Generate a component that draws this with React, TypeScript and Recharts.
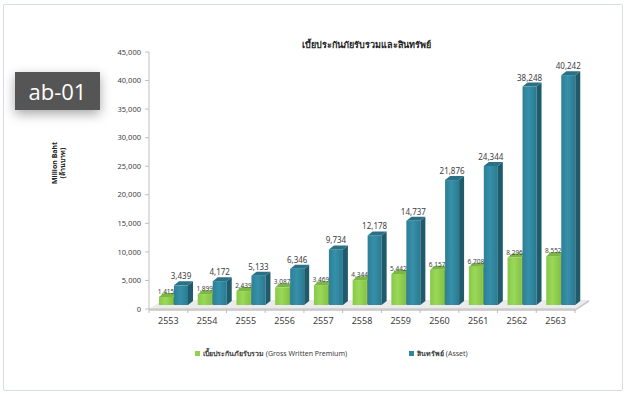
import { BarChart, Bar, XAxis, YAxis, LabelList, ReferenceArea, Label } from 'recharts';

const years = ['2553', '2554', '2555', '2556', '2557', '2558', '2559', '2560', '2561', '2562', '2563'];
const premium = [1415, 1899, 2439, 3087, 3469, 4344, 5442, 6157, 6708, 8296, 8552];
const assets = [3439, 4172, 5133, 6346, 9734, 12178, 14737, 21876, 24344, 38248, 40242];
const yTicks = [0, 5000, 10000, 15000, 20000, 25000, 30000, 35000, 40000, 45000];

const premiumName = 'เบี้ยประกันภัยรับรวม';
const premiumNameEn = '(Gross Written Premium)';
const assetName = 'สินทรัพย์';
const assetNameEn = '(Asset)';
const title = 'เบี้ยประกันภัยรับรวมและสินทรัพย์';

const data = years.map((year, i) => ({ year, premium: premium[i], assets: assets[i] }));

const FONT = '"Noto Sans", "Open Sans", sans-serif';
// 3D look: bars are pushed a little right/up, with a side and a top face
const SHIFT_X = 5;
const SHIFT_Y = 4;
const DEPTH_X = 5;
const DEPTH_Y = 4;

const fmt = (v: number) => v.toLocaleString('en-US');

const make3DBar = (gradId: string, side: string, top: string) => (props: any) => {
    const { x, y, width, height } = props;
    if (!height || height <= 0) return null;
    const fx = x + SHIFT_X;
    const fy = y - SHIFT_Y;
    const r = fx + width;
    const b = fy + height;
    return (
        <g>
            <rect x={fx} y={fy} width={width} height={height} fill={`url(#${gradId})`} />
            <polygon points={`${r},${fy} ${r + DEPTH_X},${fy - DEPTH_Y} ${r + DEPTH_X},${b - DEPTH_Y} ${r},${b}`} fill={side} />
            <polygon points={`${fx},${fy} ${fx + DEPTH_X},${fy - DEPTH_Y} ${r + DEPTH_X},${fy - DEPTH_Y} ${r},${fy}`} fill={top} />
        </g>
    );
};

const makeValueLabel = (size: number, gap: number) => (props: any) => {
    const { x, y, width, value } = props;
    return (
        <text
            x={x + width / 2 + SHIFT_X}
            y={y - SHIFT_Y - gap}
            textAnchor="middle"
            fontSize={size}
            fill="#404040"
            fontFamily={FONT}
        >
            {fmt(value)}
        </text>
    );
};

const YearTick = (props: any) => {
    const { x, y, payload, index } = props;
    const half = payload.offset ?? 19.35;
    // y arrives below the axis line (tick size + margin), so pull the marks back up
    const top = y - 8;
    return (
        <g>
            <line x1={x - half} y1={top} x2={x - half} y2={top + 4} stroke="#bfbfbf" />
            {index === years.length - 1 && <line x1={x + half} y1={top} x2={x + half} y2={top + 4} stroke="#bfbfbf" />}
            <text x={x} y={y + 7} textAnchor="middle" fontSize={9} fill="#404040" fontFamily={FONT}>
                {payload.value}
            </text>
        </g>
    );
};

const Floor = (props: any) => {
    const { x, y, width, height } = props;
    const b = y + height;
    const back = b - 9;
    return (
        <g>
            <polygon points={`${x},${b} ${x + width},${b} ${x + width + 14},${back} ${x + 14},${back}`} fill="#ebebeb" />
            <polygon points={`${x},${b} ${x + width},${b} ${x + width},${b + 2} ${x},${b + 2}`} fill="#d4d4d4" />
            <polygon points={`${x + width},${b} ${x + width + 14},${back} ${x + width + 14},${back + 2} ${x + width},${b + 2}`} fill="#c8c8c8" />
        </g>
    );
};

const AxisTitle = () => {
    const cy = 163;
    return (
        <g fontFamily={FONT} fontSize={7} fontWeight="bold" fill="#222">
            <text transform={`translate(57, ${cy}) rotate(-90)`} textAnchor="middle">Million Baht</text>
            <text transform={`translate(65, ${cy}) rotate(-90)`} textAnchor="middle">(ล้านบาท)</text>
        </g>
    );
};

const LegendBox = () => (
    <div style={{ position: 'absolute', left: 0, top: 348, width: 628, height: 14, fontFamily: FONT, fontSize: 7, color: '#404040' }}>
        <div style={{ position: 'absolute', left: 195, top: 0, display: 'flex', alignItems: 'center', whiteSpace: 'nowrap' }}>
            <span style={{ width: 5, height: 5, background: '#92d050', marginRight: 3, display: 'inline-block' }} />
            <b>{premiumName}</b>&nbsp;{premiumNameEn}
        </div>
        <div style={{ position: 'absolute', left: 409, top: 0, display: 'flex', alignItems: 'center', whiteSpace: 'nowrap' }}>
            <span style={{ width: 5, height: 5, background: '#31859c', marginRight: 3, display: 'inline-block' }} />
            <b>{assetName}</b>&nbsp;{assetNameEn}
        </div>
    </div>
);

const App = () => {
    return (
        <div style={{ position: 'absolute', left: 0, top: 0, width: 628, height: 394, background: '#fff', fontFamily: FONT }}>
            <div style={{ position: 'absolute', left: 3, top: 4, width: 618, height: 385, border: '1px solid #d7dde5', borderRadius: 2 }} />
            <div style={{ position: 'absolute', left: 0, top: 38, width: 628, textAlign: 'center', paddingLeft: 104, boxSizing: 'border-box', fontSize: 9, fontWeight: 'bold', color: '#222' }}>
                {title}
            </div>
            <BarChart
                width={628}
                height={394}
                data={data}
                margin={{ top: 52, right: 53, left: 0, bottom: 0 }}
                barSize={14}
                barGap={1}
                style={{ position: 'absolute', left: 0, top: 0 }}
            >
                <defs>
                    <linearGradient id="gGreen" x1="0" y1="0" x2="1" y2="0">
                        <stop offset="0%" stopColor="#88c94a" />
                        <stop offset="45%" stopColor="#9ad858" />
                        <stop offset="100%" stopColor="#84c244" />
                    </linearGradient>
                    <linearGradient id="gBlue" x1="0" y1="0" x2="1" y2="0">
                        <stop offset="0%" stopColor="#2d7f96" />
                        <stop offset="45%" stopColor="#3690a9" />
                        <stop offset="100%" stopColor="#2b7a90" />
                    </linearGradient>
                </defs>
                <XAxis
                    dataKey="year"
                    height={85}
                    tickLine={false}
                    axisLine={{ stroke: '#bfbfbf' }}
                    tick={<YearTick />}
                    interval={0}
                />
                <YAxis
                    width={149}
                    domain={[0, 45000]}
                    ticks={yTicks}
                    tickFormatter={fmt}
                    tickSize={4}
                    tickMargin={4}
                    axisLine={{ stroke: '#bfbfbf' }}
                    tickLine={{ stroke: '#bfbfbf' }}
                    tick={{ fontSize: 7.5, fill: '#404040', fontFamily: FONT }}
                >
                    <Label content={<AxisTitle />} />
                </YAxis>
                <ReferenceArea y1={0} y2={1000} shape={<Floor />} ifOverflow="visible" />
                <Bar dataKey="premium" name={premiumName} isAnimationActive={false} shape={make3DBar('gGreen', '#6ea238', '#7bb743')}>
                    <LabelList dataKey="premium" content={makeValueLabel(6.5, 3)} />
                </Bar>
                <Bar dataKey="assets" name={assetName} isAnimationActive={false} shape={make3DBar('gBlue', '#1f5b6c', '#2a7186')}>
                    <LabelList dataKey="assets" content={makeValueLabel(8, 6)} />
                </Bar>
            </BarChart>
            <LegendBox />
            <div style={{ position: 'absolute', left: 15, top: 72, width: 85, height: 38, background: '#555', color: '#fff', fontSize: 22, display: 'flex', alignItems: 'center', justifyContent: 'center', boxShadow: '0 4px 12px rgba(0,0,0,0.35)', fontFamily: '"Open Sans", sans-serif' }}>
                ab-01
            </div>
        </div>
    );
};

export default App;
